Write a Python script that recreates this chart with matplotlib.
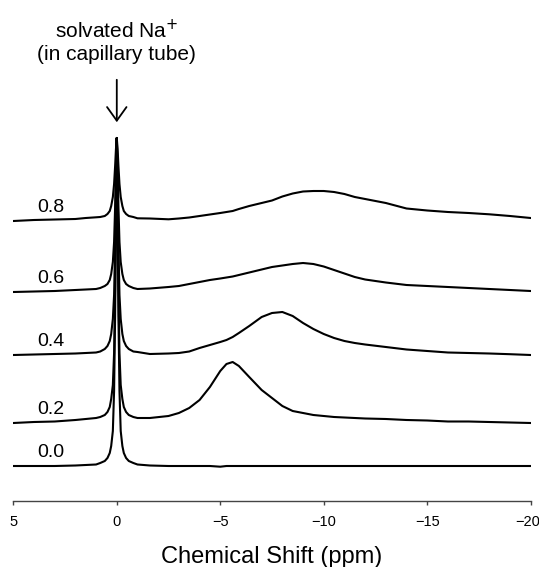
import matplotlib
matplotlib.use("Agg")
import matplotlib.pyplot as plt
import matplotlib.transforms as mtransforms
import numpy as np

plt.rcParams['font.family'] = ['Liberation Sans', 'DejaVu Sans']

# chemical shift grid (ppm)
shift = [5, 4, 3, 2, 1.5, 1.0,
         0.8, 0.58, 0.45, 0.34, 0.27, 0.19, 0.13, 0.08, 0.04,
         0,
         -0.04, -0.08, -0.13, -0.19, -0.27, -0.34, -0.45, -0.58, -0.8,
         -1.0, -1.6,
         -2.5, -3.0, -3.5, -4.0, -4.5, -5.0,
         -5.3, -5.6, -5.9, -6.4, -7.0, -7.5, -8.0, -8.5, -9.0, -9.5, -10.0,
         -10.5, -11.0, -11.5, -12.0, -13, -14, -15, -16, -17, -18, -19, -20]

# intensities above each trace's own baseline (arbitrary units)
spec_00 = [0, 0, 0, 0.5, 1, 1.5,
           3, 5, 8, 13, 20, 35, 75, 150, 250,
           328,
           250, 150, 75, 35, 20, 13, 8, 5, 3,
           1.5, 0.5,
           0, 0, 0, 0, 0, -0.7,
           0, 0, 0, 0, 0, 0, 0, 0, 0, 0, 0,
           0, 0, 0, 0, 0, 0, 0, 0, 0, 0, 0, 0]
spec_02 = [0, 1, 1.5, 3, 4, 5,
           6, 8, 11, 16, 24, 38, 70, 135, 215,
           285,
           215, 135, 70, 38, 24, 16, 11, 8, 6,
           5, 5,
           7, 10, 15, 23, 36, 52,
           59, 61, 57, 46, 33, 25, 17, 12, 10, 8, 7,
           6, 5.5, 5, 4.5, 4, 3, 2.5, 1.5, 1.5, 1, 0.5, 0]
spec_04 = [0, 0.5, 1, 1.5, 2, 2.5,
           3.5, 6, 9, 14, 21, 36, 60, 110, 170,
           217,
           170, 110, 60, 36, 21, 14, 9, 6, 3.5,
           3, 1,
           1.5, 2, 3.5, 7, 10, 13,
           15, 18, 22, 29, 38, 42, 43, 39, 32, 26, 21,
           17, 14, 12, 10.5, 8, 5.5, 4, 2.5, 2, 1.5, 0.8, 0]
spec_06 = [0, 0.5, 1, 2, 2.5, 3,
           4, 6, 8, 12, 18, 30, 50, 85, 125,
           154,
           125, 85, 50, 30, 18, 12, 8, 6, 4,
           3, 3.5,
           5, 6, 8, 10, 12, 13.5,
           14.5, 15.5, 17, 19.5, 22.5, 25, 26.5, 28, 29, 28, 25.5,
           22, 18.5, 15, 12.5, 9.5, 7, 6, 5, 4, 3, 2, 1]
spec_08 = [0, 1, 1.5, 2, 3, 3.7,
           4, 5, 7, 10, 15, 24, 37, 55, 72,
           83,
           72, 55, 37, 24, 15, 10, 7, 5, 4,
           2.7, 2.5,
           1.7, 2.5, 3.5, 5, 6.5, 8,
           9, 10, 12, 15, 18, 20.5, 24.5, 27.5, 29.5, 30, 30,
           29, 27, 24, 22, 18, 12.5, 10.5, 9, 8, 6.7, 5, 3]

labels = ["0.0", "0.2", "0.4", "0.6", "0.8"]
spectra = [spec_00, spec_02, spec_04, spec_06, spec_08]
offsets = [34.7, 77.7, 145.7, 208.7, 279.7]

fig = plt.figure(figsize=(5.39, 5.67), dpi=100)
ax = fig.add_axes([13.3 / 539, 66.3 / 567, 517.4 / 539, 500.7 / 567])

x = np.array(shift)
for lab, spec, off in zip(labels, spectra, offsets):
    ax.plot(x, np.array(spec) + off, color='black', linewidth=1.5,
            solid_joinstyle='round')
    ax.text(3.85, off + 9, lab, fontsize=14, ha='left', va='baseline')

# annotation for the reference peak
ax.annotate("", xy=(0, 375.7), xytext=(0, 423.7),
            arrowprops=dict(arrowstyle='->, head_length=0.7, head_width=0.5',
                            color='black', lw=1.3, mutation_scale=14))
ax.text(0, 470.7, "solvated Na$^{+}$", fontsize=15, ha='center', va='center')
ax.text(0, 446.2, "(in capillary tube)", fontsize=15, ha='center', va='center')

ax.set_xlim(5, -20)
ax.set_ylim(0, 500.7)
ax.set_xticks([5, 0, -5, -10, -15, -20])
ax.set_yticks([])
for side in ['left', 'right', 'top']:
    ax.spines[side].set_visible(False)
ax.spines['bottom'].set_color('#444444')
ax.spines['bottom'].set_linewidth(1.0)
ax.tick_params(axis='x', direction='out', length=3.1, width=1.0,
               color='#444444', labelsize=10.5, pad=7.5)
ax.patch.set_visible(False)

# last tick label nudged left so it stays inside the figure
last = ax.get_xticklabels()[-1]
last.set_transform(last.get_transform() +
                   mtransforms.ScaledTranslation(-0.03, 0, fig.dpi_scale_trans))

ax.set_xlabel("Chemical Shift (ppm)", fontsize=17, va='center')
ax.xaxis.set_label_coords(0.5, -0.1115)

plt.savefig("out.png", dpi=100)
